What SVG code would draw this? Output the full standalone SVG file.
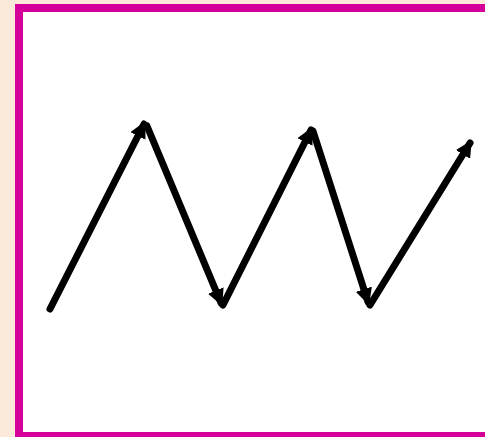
<svg xmlns="http://www.w3.org/2000/svg" width="485" height="437" viewBox="0 0 485 437">
<style>
.seg{stroke:#000;stroke-width:7;stroke-linecap:round;fill:none;marker-end:url(#ah)}
</style>
<defs>
<marker id="ah" viewBox="0 0 10 10" refX="8" refY="5" markerWidth="2.4" markerHeight="2.4" orient="auto" markerUnits="strokeWidth">
<path d="M0,0 L10,5 L0,10 z" fill="#000"/>
</marker>
</defs>
<rect x="0" y="0" width="485" height="437" fill="#fbe9da"/>
<rect x="19" y="8" width="480" height="428" fill="#fff" stroke="#d5009a" stroke-width="8"/>
<g id="connectors">
<line class="seg" x1="50" y1="309" x2="144" y2="124"/>
<line class="seg" x1="147" y1="126" x2="221" y2="303"/>
<line class="seg" x1="223" y1="305" x2="311" y2="130"/>
<line class="seg" x1="313" y1="131" x2="368" y2="302"/>
<line class="seg" x1="370" y1="305" x2="470" y2="143"/>
</g>
</svg>
